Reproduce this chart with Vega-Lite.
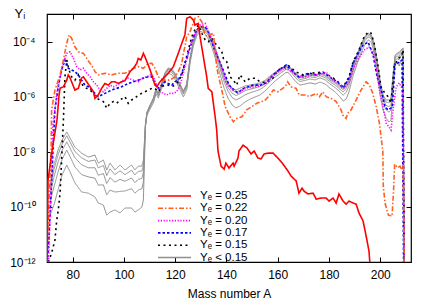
{
"$schema": "https://vega.github.io/schema/vega-lite/v6.json",
"width": 364, "height": 248,
"autosize": {"type": "none"},
"padding": {"left": 47, "top": 14, "right": 21, "bottom": 40},
"background": "white",
"config": {
  "font": "Liberation Sans",
  "view": {"stroke": "#000", "strokeWidth": 1.2},
  "axis": {"grid": false, "domain": false, "tickColor": "#000", "labelColor": "#000", "titleColor": "#000", "labelFontSize": 12, "titleFontSize": 12, "titleFontWeight": "normal", "labelFont": "Liberation Sans", "titleFont": "Liberation Sans", "labelFlush": false, "labelOverlap": false},
  "legend": {"orient": "none", "legendX": 110, "legendY": 176, "symbolType": "stroke", "symbolSize": 1089, "symbolStrokeWidth": 1.6, "clipHeight": 12, "rowPadding": 0.3, "labelFontSize": 11.5, "labelFont": "Liberation Sans", "labelColor": "#000", "labelOffset": 8, "padding": 0, "labelLimit": 300}
},
"datasets": {
"gray": [
{"A":71.2,"g1":6.17e-10,"g2":4.57e-10,"g3":2.88e-10,"g4":1.55e-10,"g5":5.01e-11},
{"A":72.7,"g1":3.31e-9,"g2":2.24e-9,"g3":1.20e-9,"g4":5.25e-10,"g5":1.17e-10},
{"A":74.3,"g1":1.15e-8,"g2":7.76e-9,"g3":4.17e-9,"g4":1.82e-9,"g5":4.07e-10},
{"A":75.9,"g1":2.69e-8,"g2":1.91e-8,"g3":1.12e-8,"g4":5.37e-9,"g5":1.45e-9},
{"A":77.7,"g1":5.25e-8,"g2":3.80e-8,"g3":2.29e-8,"g4":1.15e-8,"g5":3.31e-9},
{"A":79.0,"g1":3.16e-8,"g2":2.24e-8,"g3":1.35e-8,"g4":6.61e-9,"g5":1.86e-9},
{"A":80.9,"g1":1.48e-8,"g2":1.02e-8,"g3":6.03e-9,"g4":2.82e-9,"g5":7.41e-10},
{"A":83.5,"g1":8.91e-9,"g2":6.03e-9,"g3":3.39e-9,"g4":1.48e-9,"g5":3.47e-10},
{"A":86.1,"g1":6.46e-9,"g2":4.47e-9,"g3":2.63e-9,"g4":1.23e-9,"g5":3.16e-10},
{"A":88.7,"g1":7.59e-9,"g2":5.01e-9,"g3":2.63e-9,"g4":1.10e-9,"g5":2.29e-10},
{"A":90.0,"g1":3.89e-9,"g2":2.63e-9,"g3":1.41e-9,"g4":6.17e-10,"g5":1.38e-10},
{"A":92.0,"g1":5.01e-9,"g2":3.16e-9,"g3":1.62e-9,"g4":6.31e-10,"g5":1.17e-10},
{"A":93.3,"g1":2.19e-9,"g2":1.38e-9,"g3":7.08e-10,"g4":2.75e-10,"g5":5.01e-11},
{"A":94.6,"g1":3.89e-9,"g2":2.40e-9,"g3":1.15e-9,"g4":4.07e-10,"g5":6.46e-11},
{"A":96.5,"g1":2.19e-9,"g2":1.48e-9,"g3":7.94e-10,"g4":3.47e-10,"g5":7.76e-11},
{"A":98.5,"g1":3.31e-9,"g2":2.04e-9,"g3":1.0e-9,"g4":3.63e-10,"g5":6.03e-11},
{"A":100.4,"g1":2.19e-9,"g2":1.48e-9,"g3":8.51e-10,"g4":3.80e-10,"g5":9.12e-11},
{"A":103.0,"g1":3.31e-9,"g2":2.14e-9,"g3":1.12e-9,"g4":4.57e-10,"g5":9.12e-11},
{"A":104.3,"g1":2.19e-9,"g2":1.45e-9,"g3":7.59e-10,"g4":3.16e-10,"g5":6.46e-11},
{"A":105.6,"g1":3.02e-9,"g2":1.95e-9,"g3":1.0e-9,"g4":4.07e-10,"g5":7.76e-11},
{"A":107.0,"g1":3.02e-9,"g2":2.0e-9,"g3":1.07e-9,"g4":4.57e-10,"g5":9.77e-11},
{"A":107.6,"g1":5.01e-9,"g2":3.39e-9,"g3":1.82e-9,"g4":7.94e-10,"g5":1.78e-10},
{"A":108.4,"g1":1.0e-7,"g2":9.55e-8,"g3":9.12e-8,"g4":8.71e-8,"g5":7.94e-8},
{"A":109.0,"g1":2.75e-7,"g2":2.69e-7,"g3":2.57e-7,"g4":2.40e-7,"g5":2.14e-7},
{"A":110.2,"g1":5.01e-7,"g2":4.79e-7,"g3":4.47e-7,"g4":4.17e-7,"g5":3.55e-7},
{"A":111.5,"g1":8.91e-7,"g2":8.51e-7,"g3":7.94e-7,"g4":7.08e-7,"g5":5.89e-7},
{"A":112.5,"g1":1.91e-6,"g2":1.82e-6,"g3":1.70e-6,"g4":1.51e-6,"g5":1.26e-6},
{"A":113.4,"g1":1.35e-6,"g2":1.29e-6,"g3":1.20e-6,"g4":1.07e-6,"g5":8.91e-7},
{"A":114.8,"g1":3.16e-6,"g2":3.02e-6,"g3":2.75e-6,"g4":2.51e-6,"g5":2.04e-6},
{"A":116.0,"g1":7.24e-6,"g2":6.92e-6,"g3":6.46e-6,"g4":5.75e-6,"g5":4.79e-6},
{"A":117.3,"g1":1.10e-5,"g2":1.05e-5,"g3":9.77e-6,"g4":8.71e-6,"g5":7.24e-6},
{"A":118.7,"g1":1.0e-5,"g2":9.33e-6,"g3":8.71e-6,"g4":7.59e-6,"g5":6.17e-6},
{"A":119.9,"g1":7.24e-6,"g2":6.76e-6,"g3":6.17e-6,"g4":5.50e-6,"g5":4.37e-6},
{"A":121.9,"g1":2.88e-6,"g2":2.69e-6,"g3":2.45e-6,"g4":2.19e-6,"g5":1.74e-6},
{"A":123.2,"g1":1.62e-6,"g2":1.51e-6,"g3":1.38e-6,"g4":1.23e-6,"g5":9.77e-7},
{"A":124.5,"g1":2.88e-6,"g2":2.69e-6,"g3":2.45e-6,"g4":2.19e-6,"g5":1.74e-6},
{"A":125.8,"g1":2.51e-5,"g2":2.40e-5,"g3":2.24e-5,"g4":2.0e-5,"g5":1.66e-5},
{"A":127.1,"g1":1.05e-4,"g2":1.0e-4,"g3":9.33e-5,"g4":8.32e-5,"g5":6.92e-5},
{"A":128.4,"g1":2.40e-4,"g2":2.29e-4,"g3":2.14e-4,"g4":1.91e-4,"g5":1.58e-4},
{"A":129.7,"g1":3.63e-4,"g2":3.47e-4,"g3":3.24e-4,"g4":2.88e-4,"g5":2.40e-4},
{"A":131.3,"g1":3.39e-4,"g2":3.16e-4,"g3":2.88e-4,"g4":2.57e-4,"g5":2.04e-4},
{"A":132.8,"g1":2.40e-4,"g2":2.24e-4,"g3":2.0e-4,"g4":1.74e-4,"g5":1.35e-4},
{"A":134.4,"g1":1.15e-4,"g2":1.07e-4,"g3":9.33e-5,"g4":7.94e-5,"g5":5.89e-5},
{"A":135.9,"g1":4.90e-5,"g2":4.47e-5,"g3":3.80e-5,"g4":3.09e-5,"g5":2.14e-5},
{"A":137.5,"g1":1.82e-5,"g2":1.62e-5,"g3":1.35e-5,"g4":1.05e-5,"g5":6.61e-6},
{"A":139.1,"g1":6.61e-6,"g2":5.75e-6,"g3":4.68e-6,"g4":3.47e-6,"g5":2.04e-6},
{"A":140.6,"g1":3.16e-6,"g2":2.69e-6,"g3":2.14e-6,"g4":1.58e-6,"g5":8.91e-7},
{"A":142.2,"g1":2.04e-6,"g2":1.74e-6,"g3":1.35e-6,"g4":9.33e-7,"g5":5.01e-7},
{"A":143.7,"g1":1.74e-6,"g2":1.45e-6,"g3":1.10e-6,"g4":7.59e-7,"g5":3.89e-7},
{"A":145.3,"g1":2.04e-6,"g2":1.70e-6,"g3":1.29e-6,"g4":8.91e-7,"g5":4.57e-7},
{"A":147.3,"g1":2.45e-6,"g2":2.09e-6,"g3":1.66e-6,"g4":1.17e-6,"g5":6.46e-7},
{"A":149.2,"g1":2.63e-6,"g2":2.29e-6,"g3":1.86e-6,"g4":1.38e-6,"g5":8.13e-7},
{"A":151.2,"g1":2.88e-6,"g2":2.51e-6,"g3":2.09e-6,"g4":1.58e-6,"g5":9.77e-7},
{"A":153.1,"g1":3.16e-6,"g2":2.82e-6,"g3":2.34e-6,"g4":1.82e-6,"g5":1.15e-6},
{"A":155.1,"g1":3.98e-6,"g2":3.55e-6,"g3":3.02e-6,"g4":2.45e-6,"g5":1.62e-6},
{"A":157.0,"g1":5.62e-6,"g2":5.13e-6,"g3":4.37e-6,"g4":3.55e-6,"g5":2.45e-6},
{"A":159.0,"g1":7.76e-6,"g2":7.08e-6,"g3":6.17e-6,"g4":5.13e-6,"g5":3.72e-6},
{"A":160.9,"g1":1.0e-5,"g2":9.33e-6,"g3":8.13e-6,"g4":6.92e-6,"g5":5.13e-6},
{"A":162.9,"g1":1.29e-5,"g2":1.20e-5,"g3":1.07e-5,"g4":9.33e-6,"g5":7.24e-6},
{"A":164.0,"g1":1.41e-5,"g2":1.32e-5,"g3":1.17e-5,"g4":1.02e-5,"g5":7.76e-6},
{"A":165.6,"g1":1.0e-5,"g2":9.33e-6,"g3":8.13e-6,"g4":6.92e-6,"g5":5.13e-6},
{"A":167.2,"g1":6.61e-6,"g2":6.17e-6,"g3":5.37e-6,"g4":4.57e-6,"g5":3.39e-6},
{"A":168.7,"g1":5.13e-6,"g2":4.79e-6,"g3":4.17e-6,"g4":3.55e-6,"g5":2.63e-6},
{"A":170.7,"g1":5.62e-6,"g2":5.25e-6,"g3":4.57e-6,"g4":3.89e-6,"g5":2.88e-6},
{"A":172.6,"g1":6.61e-6,"g2":6.03e-6,"g3":5.25e-6,"g4":4.37e-6,"g5":3.16e-6},
{"A":174.6,"g1":6.17e-6,"g2":5.62e-6,"g3":4.90e-6,"g4":4.07e-6,"g5":2.88e-6},
{"A":176.5,"g1":7.24e-6,"g2":6.61e-6,"g3":5.75e-6,"g4":4.79e-6,"g5":3.39e-6},
{"A":178.5,"g1":6.17e-6,"g2":5.62e-6,"g3":4.90e-6,"g4":4.07e-6,"g5":2.88e-6},
{"A":180.4,"g1":4.37e-6,"g2":3.98e-6,"g3":3.47e-6,"g4":2.88e-6,"g5":2.04e-6},
{"A":182.4,"g1":3.39e-6,"g2":3.09e-6,"g3":2.63e-6,"g4":2.14e-6,"g5":1.48e-6},
{"A":184.3,"g1":2.45e-6,"g2":2.19e-6,"g3":1.86e-6,"g4":1.48e-6,"g5":9.77e-7},
{"A":185.5,"g1":2.04e-6,"g2":1.78e-6,"g3":1.48e-6,"g4":1.12e-6,"g5":6.92e-7},
{"A":186.7,"g1":2.88e-6,"g2":2.45e-6,"g3":1.95e-6,"g4":1.45e-6,"g5":8.13e-7},
{"A":187.8,"g1":4.37e-6,"g2":3.80e-6,"g3":3.16e-6,"g4":2.40e-6,"g5":1.48e-6},
{"A":189.4,"g1":1.41e-5,"g2":1.26e-5,"g3":1.07e-5,"g4":8.51e-6,"g5":5.62e-6},
{"A":191.0,"g1":3.55e-5,"g2":3.24e-5,"g3":2.75e-5,"g4":2.24e-5,"g5":1.55e-5},
{"A":192.5,"g1":8.13e-5,"g2":7.41e-5,"g3":6.46e-5,"g4":5.37e-5,"g5":3.80e-5},
{"A":194.1,"g1":1.58e-4,"g2":1.48e-4,"g3":1.29e-4,"g4":1.10e-4,"g5":8.13e-5},
{"A":195.3,"g1":2.04e-4,"g2":1.91e-4,"g3":1.70e-4,"g4":1.48e-4,"g5":1.15e-4},
{"A":196.5,"g1":1.74e-4,"g2":1.62e-4,"g3":1.45e-4,"g4":1.26e-4,"g5":9.55e-5},
{"A":197.6,"g1":8.91e-5,"g2":8.13e-5,"g3":7.08e-5,"g4":5.89e-5,"g5":4.17e-5},
{"A":198.8,"g1":2.14e-5,"g2":1.91e-5,"g3":1.58e-5,"g4":1.23e-5,"g5":7.76e-6},
{"A":199.9,"g1":3.98e-6,"g2":3.47e-6,"g3":2.75e-6,"g4":2.0e-6,"g5":1.15e-6},
{"A":201.1,"g1":1.15e-6,"g2":1.0e-6,"g3":7.94e-7,"g4":5.75e-7,"g5":3.31e-7},
{"A":202.3,"g1":7.59e-7,"g2":6.31e-7,"g3":4.79e-7,"g4":3.31e-7,"g5":1.66e-7},
{"A":203.4,"g1":7.59e-7,"g2":6.03e-7,"g3":4.37e-7,"g4":2.75e-7,"g5":1.20e-7},
{"A":204.2,"g1":8.91e-7,"g2":7.08e-7,"g3":5.13e-7,"g4":3.24e-7,"g5":1.41e-7},
{"A":205.0,"g1":6.17e-6,"g2":5.25e-6,"g3":4.17e-6,"g4":3.09e-6,"g5":1.74e-6},
{"A":205.8,"g1":3.24e-5,"g2":2.95e-5,"g3":2.51e-5,"g4":2.04e-5,"g5":1.41e-5},
{"A":206.6,"g1":3.80e-5,"g2":3.47e-5,"g3":2.95e-5,"g4":2.40e-5,"g5":1.66e-5},
{"A":207.4,"g1":4.17e-5,"g2":3.63e-5,"g3":2.95e-5,"g4":2.19e-5,"g5":1.29e-5},
{"A":208.1,"g1":4.90e-5,"g2":4.47e-5,"g3":3.80e-5,"g4":3.09e-5,"g5":2.14e-5},
{"A":208.9,"g1":5.89e-5,"g2":5.13e-5,"g3":4.17e-5,"g4":3.09e-5,"g5":1.82e-5},
{"A":209.3,"g1":1e-12,"g2":1e-12,"g3":1e-12,"g4":1e-12,"g5":1e-12}
],
"main": [
{"s":"0.15","A":70.5,"Y":1e-12},{"s":"0.15","A":71.8,"Y":2.09e-12},{"s":"0.15","A":73.1,"Y":6.31e-12},{"s":"0.15","A":73.8,"Y":3.31e-11},{"s":"0.15","A":74.4,"Y":7.76e-11},{"s":"0.15","A":75.1,"Y":3.16e-10},{"s":"0.15","A":75.7,"Y":5.01e-9},{"s":"0.15","A":76.4,"Y":1.41e-7},{"s":"0.15","A":77.0,"Y":5.25e-6},{"s":"0.15","A":77.7,"Y":2.14e-5},{"s":"0.15","A":78.3,"Y":1.23e-5},{"s":"0.15","A":79.0,"Y":7.08e-6},{"s":"0.15","A":79.6,"Y":5.25e-6},{"s":"0.15","A":80.9,"Y":3.98e-6},{"s":"0.15","A":82.2,"Y":6.17e-6},{"s":"0.15","A":82.9,"Y":3.98e-6},{"s":"0.15","A":84.2,"Y":2.29e-6},{"s":"0.15","A":85.5,"Y":2.0e-6},{"s":"0.15","A":86.8,"Y":1.74e-6},{"s":"0.15","A":88.1,"Y":1.32e-6},{"s":"0.15","A":89.4,"Y":8.71e-7},{"s":"0.15","A":90.7,"Y":7.59e-7},{"s":"0.15","A":92.0,"Y":6.61e-7},{"s":"0.15","A":93.3,"Y":3.80e-7},{"s":"0.15","A":94.6,"Y":5.75e-7},{"s":"0.15","A":95.9,"Y":6.61e-7},{"s":"0.15","A":97.2,"Y":5.75e-7},{"s":"0.15","A":98.5,"Y":7.59e-7},{"s":"0.15","A":100.4,"Y":1.0e-6},{"s":"0.15","A":101.7,"Y":5.75e-7},{"s":"0.15","A":103.0,"Y":7.59e-7},{"s":"0.15","A":104.3,"Y":8.71e-7},{"s":"0.15","A":105.6,"Y":1.15e-6},{"s":"0.15","A":107.0,"Y":1.32e-6},{"s":"0.15","A":108.2,"Y":1.51e-6},{"s":"0.15","A":109.5,"Y":1.74e-6},{"s":"0.15","A":110.9,"Y":2.0e-6},{"s":"0.15","A":112.1,"Y":2.0e-6},{"s":"0.15","A":113.4,"Y":1.51e-6},{"s":"0.15","A":114.8,"Y":2.29e-6},{"s":"0.15","A":116.0,"Y":2.63e-6},{"s":"0.15","A":117.3,"Y":2.63e-6},{"s":"0.15","A":118.7,"Y":2.29e-6},{"s":"0.15","A":119.9,"Y":2.63e-6},{"s":"0.15","A":121.2,"Y":3.47e-6},{"s":"0.15","A":122.6,"Y":6.17e-6},{"s":"0.15","A":123.8,"Y":1.62e-5},{"s":"0.15","A":125.1,"Y":4.9e-5},{"s":"0.15","A":126.5,"Y":1.51e-4},{"s":"0.15","A":127.7,"Y":2.63e-4},{"s":"0.15","A":129.0,"Y":3.98e-4},{"s":"0.15","A":130.4,"Y":2.0e-4},{"s":"0.15","A":131.7,"Y":1.15e-4},{"s":"0.15","A":132.9,"Y":9.77e-5},{"s":"0.15","A":134.3,"Y":1.32e-4},{"s":"0.15","A":135.6,"Y":8.71e-5},{"s":"0.15","A":136.8,"Y":6.46e-5},{"s":"0.15","A":138.2,"Y":4.27e-5},{"s":"0.15","A":138.8,"Y":2.45e-5},{"s":"0.15","A":140.1,"Y":1.86e-5},{"s":"0.15","A":141.4,"Y":5.25e-6},{"s":"0.15","A":142.7,"Y":3.98e-6},{"s":"0.15","A":144.0,"Y":2.63e-6},{"s":"0.15","A":145.3,"Y":6.17e-6},{"s":"0.15","A":147.3,"Y":3.47e-6},{"s":"0.15","A":149.2,"Y":4.68e-6},{"s":"0.15","A":151.2,"Y":4.68e-6},{"s":"0.15","A":153.1,"Y":3.47e-6},{"s":"0.15","A":155.5,"Y":3.16e-6},{"s":"0.15","A":158.2,"Y":4.79e-6},{"s":"0.15","A":160.1,"Y":9.33e-6},{"s":"0.15","A":162.1,"Y":1.10e-5},{"s":"0.15","A":164.0,"Y":1.41e-5},{"s":"0.15","A":167.2,"Y":7.76e-6},{"s":"0.15","A":169.9,"Y":6.17e-6},{"s":"0.15","A":173.8,"Y":7.24e-6},{"s":"0.15","A":177.7,"Y":7.76e-6},{"s":"0.15","A":181.6,"Y":4.79e-6},{"s":"0.15","A":183.9,"Y":3.16e-6},{"s":"0.15","A":185.5,"Y":2.24e-6},{"s":"0.15","A":187.8,"Y":5.13e-6},{"s":"0.15","A":189.4,"Y":1.82e-5},{"s":"0.15","A":191.7,"Y":4.9e-5},{"s":"0.15","A":193.7,"Y":1.48e-4},{"s":"0.15","A":195.3,"Y":2.24e-4},{"s":"0.15","A":196.4,"Y":2.04e-4},{"s":"0.15","A":197.6,"Y":8.91e-5},{"s":"0.15","A":199.2,"Y":1.20e-5},{"s":"0.15","A":200.3,"Y":2.24e-6},{"s":"0.15","A":201.5,"Y":1.48e-6},{"s":"0.15","A":203.1,"Y":9.77e-7},{"s":"0.15","A":204.2,"Y":5.89e-7},{"s":"0.15","A":205.4,"Y":1.20e-5},{"s":"0.15","A":207.0,"Y":2.51e-5},{"s":"0.15","A":208.2,"Y":2.75e-5},{"s":"0.15","A":208.9,"Y":4.9e-5},{"s":"0.15","A":209.3,"Y":1e-12},
{"s":"0.17","A":70.2,"Y":1e-12},{"s":"0.17","A":70.8,"Y":9.55e-12},{"s":"0.17","A":71.4,"Y":1.17e-10},{"s":"0.17","A":72.0,"Y":2.19e-9},{"s":"0.17","A":72.5,"Y":2.69e-8},{"s":"0.17","A":73.1,"Y":3.31e-7},{"s":"0.17","A":74.4,"Y":2.29e-6},{"s":"0.17","A":75.7,"Y":9.33e-6},{"s":"0.17","A":77.0,"Y":2.14e-5},{"s":"0.17","A":77.7,"Y":1.62e-5},{"s":"0.17","A":78.3,"Y":1.07e-5},{"s":"0.17","A":79.6,"Y":9.33e-6},{"s":"0.17","A":80.9,"Y":8.13e-6},{"s":"0.17","A":82.2,"Y":6.17e-6},{"s":"0.17","A":83.5,"Y":3.98e-6},{"s":"0.17","A":84.8,"Y":2.63e-6},{"s":"0.17","A":86.1,"Y":2.29e-6},{"s":"0.17","A":87.4,"Y":1.74e-6},{"s":"0.17","A":88.7,"Y":1.32e-6},{"s":"0.17","A":90.0,"Y":1.0e-6},{"s":"0.17","A":91.3,"Y":1.15e-6},{"s":"0.17","A":92.6,"Y":1.32e-6},{"s":"0.17","A":93.9,"Y":1.51e-6},{"s":"0.17","A":95.2,"Y":1.74e-6},{"s":"0.17","A":97.2,"Y":2.0e-6},{"s":"0.17","A":99.1,"Y":2.29e-6},{"s":"0.17","A":101.7,"Y":3.02e-6},{"s":"0.17","A":103.7,"Y":3.47e-6},{"s":"0.17","A":105.6,"Y":3.98e-6},{"s":"0.17","A":107.6,"Y":4.68e-6},{"s":"0.17","A":109.5,"Y":5.25e-6},{"s":"0.17","A":110.9,"Y":5.25e-6},{"s":"0.17","A":112.1,"Y":3.02e-6},{"s":"0.17","A":113.4,"Y":2.0e-6},{"s":"0.17","A":114.8,"Y":2.63e-6},{"s":"0.17","A":116.0,"Y":3.47e-6},{"s":"0.17","A":117.3,"Y":3.02e-6},{"s":"0.17","A":118.7,"Y":2.63e-6},{"s":"0.17","A":119.9,"Y":3.47e-6},{"s":"0.17","A":121.2,"Y":3.98e-6},{"s":"0.17","A":122.6,"Y":7.08e-6},{"s":"0.17","A":123.8,"Y":1.62e-5},{"s":"0.17","A":125.1,"Y":3.72e-5},{"s":"0.17","A":126.5,"Y":9.77e-5},{"s":"0.17","A":127.7,"Y":2.0e-4},{"s":"0.17","A":129.0,"Y":3.02e-4},{"s":"0.17","A":130.4,"Y":3.47e-4},{"s":"0.17","A":131.7,"Y":3.47e-4},{"s":"0.17","A":132.9,"Y":2.29e-4},{"s":"0.17","A":134.3,"Y":9.77e-5},{"s":"0.17","A":135.6,"Y":4.27e-5},{"s":"0.17","A":137.1,"Y":2.14e-5},{"s":"0.17","A":139.1,"Y":7.76e-6},{"s":"0.17","A":141.0,"Y":2.63e-6},{"s":"0.17","A":143.0,"Y":1.74e-6},{"s":"0.17","A":144.5,"Y":1.35e-6},{"s":"0.17","A":146.9,"Y":2.04e-6},{"s":"0.17","A":150.4,"Y":2.63e-6},{"s":"0.17","A":153.5,"Y":2.63e-6},{"s":"0.17","A":155.5,"Y":3.16e-6},{"s":"0.17","A":158.2,"Y":6.17e-6},{"s":"0.17","A":160.5,"Y":9.33e-6},{"s":"0.17","A":163.3,"Y":1.41e-5},{"s":"0.17","A":165.2,"Y":9.33e-6},{"s":"0.17","A":168.3,"Y":5.13e-6},{"s":"0.17","A":172.2,"Y":7.24e-6},{"s":"0.17","A":175.0,"Y":6.17e-6},{"s":"0.17","A":177.7,"Y":7.76e-6},{"s":"0.17","A":180.8,"Y":4.79e-6},{"s":"0.17","A":183.5,"Y":3.39e-6},{"s":"0.17","A":185.5,"Y":2.04e-6},{"s":"0.17","A":187.8,"Y":4.79e-6},{"s":"0.17","A":189.4,"Y":1.66e-5},{"s":"0.17","A":191.4,"Y":3.80e-5},{"s":"0.17","A":193.3,"Y":7.41e-5},{"s":"0.17","A":195.3,"Y":9.55e-5},{"s":"0.17","A":197.2,"Y":3.24e-5},{"s":"0.17","A":198.8,"Y":5.13e-6},{"s":"0.17","A":200.7,"Y":1.35e-6},{"s":"0.17","A":201.9,"Y":4.17e-7},{"s":"0.17","A":203.1,"Y":3.31e-7},{"s":"0.17","A":204.7,"Y":4.17e-7},{"s":"0.17","A":205.8,"Y":1.66e-5},{"s":"0.17","A":207.0,"Y":1.66e-5},{"s":"0.17","A":208.5,"Y":2.14e-5},{"s":"0.17","A":209.1,"Y":1e-12},
{"s":"0.20","A":70.6,"Y":1e-12},{"s":"0.20","A":71.2,"Y":5.01e-11},{"s":"0.20","A":71.8,"Y":2.19e-9},{"s":"0.20","A":72.3,"Y":9.33e-8},{"s":"0.20","A":73.8,"Y":1.32e-6},{"s":"0.20","A":75.1,"Y":5.25e-6},{"s":"0.20","A":76.4,"Y":1.62e-5},{"s":"0.20","A":77.7,"Y":3.72e-5},{"s":"0.20","A":79.0,"Y":4.27e-5},{"s":"0.20","A":80.3,"Y":2.45e-5},{"s":"0.20","A":81.6,"Y":1.23e-5},{"s":"0.20","A":82.9,"Y":9.33e-6},{"s":"0.20","A":84.2,"Y":1.07e-5},{"s":"0.20","A":85.5,"Y":7.08e-6},{"s":"0.20","A":86.8,"Y":5.25e-6},{"s":"0.20","A":88.1,"Y":3.47e-6},{"s":"0.20","A":89.4,"Y":2.63e-6},{"s":"0.20","A":90.7,"Y":1.74e-6},{"s":"0.20","A":92.0,"Y":1.51e-6},{"s":"0.20","A":93.3,"Y":2.0e-6},{"s":"0.20","A":94.6,"Y":2.63e-6},{"s":"0.20","A":95.9,"Y":2.29e-6},{"s":"0.20","A":97.2,"Y":2.63e-6},{"s":"0.20","A":98.5,"Y":3.02e-6},{"s":"0.20","A":99.8,"Y":3.98e-6},{"s":"0.20","A":101.7,"Y":4.68e-6},{"s":"0.20","A":103.7,"Y":3.98e-6},{"s":"0.20","A":105.6,"Y":3.47e-6},{"s":"0.20","A":107.0,"Y":4.68e-6},{"s":"0.20","A":108.9,"Y":5.25e-6},{"s":"0.20","A":110.2,"Y":6.17e-6},{"s":"0.20","A":111.5,"Y":5.25e-6},{"s":"0.20","A":112.8,"Y":2.63e-6},{"s":"0.20","A":114.1,"Y":1.51e-6},{"s":"0.20","A":115.4,"Y":1.32e-6},{"s":"0.20","A":116.7,"Y":1.15e-6},{"s":"0.20","A":118.0,"Y":1.32e-6},{"s":"0.20","A":119.3,"Y":1.32e-6},{"s":"0.20","A":120.6,"Y":1.51e-6},{"s":"0.20","A":121.9,"Y":2.63e-6},{"s":"0.20","A":123.2,"Y":7.08e-6},{"s":"0.20","A":124.5,"Y":2.14e-5},{"s":"0.20","A":125.8,"Y":6.46e-5},{"s":"0.20","A":127.1,"Y":1.51e-4},{"s":"0.20","A":128.4,"Y":2.63e-4},{"s":"0.20","A":129.7,"Y":3.98e-4},{"s":"0.20","A":131.7,"Y":4.57e-4},{"s":"0.20","A":133.6,"Y":1.74e-4},{"s":"0.20","A":134.9,"Y":8.71e-5},{"s":"0.20","A":136.2,"Y":3.72e-5},{"s":"0.20","A":137.5,"Y":1.62e-5},{"s":"0.20","A":138.8,"Y":8.13e-6},{"s":"0.20","A":139.8,"Y":3.16e-6},{"s":"0.20","A":142.6,"Y":1.74e-6},{"s":"0.20","A":144.5,"Y":1.35e-6},{"s":"0.20","A":147.6,"Y":2.04e-6},{"s":"0.20","A":150.4,"Y":2.24e-6},{"s":"0.20","A":154.3,"Y":2.63e-6},{"s":"0.20","A":156.6,"Y":3.98e-6},{"s":"0.20","A":159.3,"Y":7.24e-6},{"s":"0.20","A":162.1,"Y":1.10e-5},{"s":"0.20","A":164.4,"Y":9.33e-6},{"s":"0.20","A":167.2,"Y":6.17e-6},{"s":"0.20","A":169.9,"Y":5.13e-6},{"s":"0.20","A":173.8,"Y":6.17e-6},{"s":"0.20","A":176.1,"Y":6.17e-6},{"s":"0.20","A":178.9,"Y":7.76e-6},{"s":"0.20","A":181.6,"Y":3.98e-6},{"s":"0.20","A":184.7,"Y":2.63e-6},{"s":"0.20","A":185.9,"Y":2.04e-6},{"s":"0.20","A":187.8,"Y":3.16e-6},{"s":"0.20","A":189.8,"Y":1.20e-5},{"s":"0.20","A":191.7,"Y":2.51e-5},{"s":"0.20","A":193.7,"Y":4.9e-5},{"s":"0.20","A":195.6,"Y":6.31e-5},{"s":"0.20","A":197.2,"Y":4.17e-5},{"s":"0.20","A":198.4,"Y":1.20e-5},{"s":"0.20","A":199.5,"Y":2.24e-6},{"s":"0.20","A":201.1,"Y":4.17e-7},{"s":"0.20","A":202.3,"Y":1.10e-7},{"s":"0.20","A":204.2,"Y":6.17e-8},{"s":"0.20","A":205.0,"Y":3.31e-7},{"s":"0.20","A":206.2,"Y":2.24e-6},{"s":"0.20","A":207.4,"Y":3.16e-6},{"s":"0.20","A":208.9,"Y":1.74e-6},{"s":"0.20","A":209.3,"Y":1e-12},
{"s":"0.22","A":70.0,"Y":1e-12},{"s":"0.22","A":70.2,"Y":6.31e-12},{"s":"0.22","A":70.8,"Y":1.78e-10},{"s":"0.22","A":71.6,"Y":1.15e-8},{"s":"0.22","A":71.8,"Y":3.31e-7},{"s":"0.22","A":73.1,"Y":1.74e-6},{"s":"0.22","A":75.1,"Y":6.17e-6},{"s":"0.22","A":76.4,"Y":2.14e-5},{"s":"0.22","A":77.7,"Y":8.71e-5},{"s":"0.22","A":78.6,"Y":1.74e-4},{"s":"0.22","A":79.6,"Y":1.32e-4},{"s":"0.22","A":80.9,"Y":6.46e-5},{"s":"0.22","A":82.2,"Y":4.27e-5},{"s":"0.22","A":84.2,"Y":3.72e-5},{"s":"0.22","A":85.5,"Y":2.45e-5},{"s":"0.22","A":86.8,"Y":1.62e-5},{"s":"0.22","A":88.1,"Y":1.07e-5},{"s":"0.22","A":88.7,"Y":8.13e-6},{"s":"0.22","A":90.0,"Y":6.17e-6},{"s":"0.22","A":92.6,"Y":7.08e-6},{"s":"0.22","A":95.2,"Y":6.17e-6},{"s":"0.22","A":97.8,"Y":7.08e-6},{"s":"0.22","A":100.4,"Y":7.08e-6},{"s":"0.22","A":101.7,"Y":8.13e-6},{"s":"0.22","A":103.7,"Y":1.07e-5},{"s":"0.22","A":105.6,"Y":1.23e-5},{"s":"0.22","A":107.6,"Y":1.07e-5},{"s":"0.22","A":109.5,"Y":1.62e-5},{"s":"0.22","A":110.9,"Y":1.62e-5},{"s":"0.22","A":112.1,"Y":1.07e-5},{"s":"0.22","A":113.4,"Y":5.25e-6},{"s":"0.22","A":115.4,"Y":3.98e-6},{"s":"0.22","A":118.0,"Y":3.98e-6},{"s":"0.22","A":119.9,"Y":5.25e-6},{"s":"0.22","A":121.2,"Y":8.13e-6},{"s":"0.22","A":122.6,"Y":1.62e-5},{"s":"0.22","A":123.2,"Y":3.72e-5},{"s":"0.22","A":123.8,"Y":6.46e-5},{"s":"0.22","A":124.5,"Y":1.51e-4},{"s":"0.22","A":125.8,"Y":2.29e-4},{"s":"0.22","A":126.5,"Y":3.47e-4},{"s":"0.22","A":127.1,"Y":4.57e-4},{"s":"0.22","A":127.7,"Y":6.92e-4},{"s":"0.22","A":129.0,"Y":7.94e-4},{"s":"0.22","A":130.4,"Y":5.25e-4},{"s":"0.22","A":131.0,"Y":2.63e-4},{"s":"0.22","A":132.3,"Y":1.51e-4},{"s":"0.22","A":133.6,"Y":1.74e-4},{"s":"0.22","A":134.9,"Y":2.0e-4},{"s":"0.22","A":135.6,"Y":4.9e-5},{"s":"0.22","A":136.2,"Y":1.23e-5},{"s":"0.22","A":136.8,"Y":6.17e-6},{"s":"0.22","A":138.2,"Y":1.74e-6},{"s":"0.22","A":139.5,"Y":4.37e-7},{"s":"0.22","A":140.1,"Y":3.31e-7},{"s":"0.22","A":141.4,"Y":1.86e-7},{"s":"0.22","A":142.7,"Y":1.23e-7},{"s":"0.22","A":144.0,"Y":1.62e-7},{"s":"0.22","A":146.0,"Y":1.86e-7},{"s":"0.22","A":147.9,"Y":3.31e-7},{"s":"0.22","A":149.9,"Y":4.37e-7},{"s":"0.22","A":151.8,"Y":5.75e-7},{"s":"0.22","A":153.8,"Y":6.61e-7},{"s":"0.22","A":155.1,"Y":7.59e-7},{"s":"0.22","A":156.4,"Y":1.0e-6},{"s":"0.22","A":158.3,"Y":1.74e-6},{"s":"0.22","A":160.0,"Y":1.51e-6},{"s":"0.22","A":162.0,"Y":2.0e-6},{"s":"0.22","A":163.3,"Y":2.63e-6},{"s":"0.22","A":163.9,"Y":3.47e-6},{"s":"0.22","A":165.2,"Y":2.29e-6},{"s":"0.22","A":167.2,"Y":2.0e-6},{"s":"0.22","A":168.4,"Y":1.15e-6},{"s":"0.22","A":171.1,"Y":1.15e-6},{"s":"0.22","A":172.3,"Y":1.0e-6},{"s":"0.22","A":175.0,"Y":1.32e-6},{"s":"0.22","A":176.3,"Y":1.0e-6},{"s":"0.22","A":177.6,"Y":1.51e-6},{"s":"0.22","A":178.9,"Y":1.0e-6},{"s":"0.22","A":180.8,"Y":8.71e-7},{"s":"0.22","A":182.8,"Y":6.61e-7},{"s":"0.22","A":184.7,"Y":3.31e-7},{"s":"0.22","A":185.4,"Y":2.14e-7},{"s":"0.22","A":186.7,"Y":1.62e-7},{"s":"0.22","A":187.3,"Y":2.51e-7},{"s":"0.22","A":188.6,"Y":3.31e-7},{"s":"0.22","A":190.6,"Y":7.59e-7},{"s":"0.22","A":192.5,"Y":1.74e-6},{"s":"0.22","A":194.5,"Y":3.47e-6},{"s":"0.22","A":195.8,"Y":2.63e-6},{"s":"0.22","A":197.1,"Y":1.32e-6},{"s":"0.22","A":198.4,"Y":4.37e-7},{"s":"0.22","A":199.7,"Y":1.07e-7},{"s":"0.22","A":200.3,"Y":3.55e-8},{"s":"0.22","A":201.0,"Y":1.07e-8},{"s":"0.22","A":201.2,"Y":5.37e-10},{"s":"0.22","A":201.9,"Y":1.35e-10},{"s":"0.22","A":202.6,"Y":7.76e-11},{"s":"0.22","A":203.2,"Y":5.01e-11},{"s":"0.22","A":204.6,"Y":4.68e-11},{"s":"0.22","A":205.2,"Y":4.07e-10},{"s":"0.22","A":205.6,"Y":3.55e-9},{"s":"0.22","A":206.8,"Y":2.63e-9},{"s":"0.22","A":207.7,"Y":3.02e-9},{"s":"0.22","A":208.5,"Y":2.19e-9},{"s":"0.22","A":208.9,"Y":3.31e-9},{"s":"0.22","A":209.3,"Y":1e-12},
{"s":"0.25","A":70.0,"Y":1e-12},{"s":"0.25","A":70.2,"Y":1.45e-11},{"s":"0.25","A":70.4,"Y":9.3e-10},{"s":"0.25","A":72.0,"Y":1.15e-8},{"s":"0.25","A":73.9,"Y":1.41e-7},{"s":"0.25","A":74.7,"Y":1.15e-6},{"s":"0.25","A":75.1,"Y":2.04e-6},{"s":"0.25","A":76.4,"Y":2.29e-6},{"s":"0.25","A":77.7,"Y":3.98e-6},{"s":"0.25","A":78.3,"Y":6.17e-6},{"s":"0.25","A":79.0,"Y":4.79e-6},{"s":"0.25","A":79.6,"Y":3.47e-6},{"s":"0.25","A":80.9,"Y":1.74e-6},{"s":"0.25","A":82.2,"Y":2.0e-6},{"s":"0.25","A":83.5,"Y":4.79e-6},{"s":"0.25","A":84.2,"Y":5.25e-6},{"s":"0.25","A":85.5,"Y":3.47e-6},{"s":"0.25","A":86.8,"Y":2.29e-6},{"s":"0.25","A":88.1,"Y":1.51e-6},{"s":"0.25","A":88.7,"Y":8.71e-7},{"s":"0.25","A":90.0,"Y":1.15e-6},{"s":"0.25","A":91.3,"Y":2.0e-6},{"s":"0.25","A":92.6,"Y":3.02e-6},{"s":"0.25","A":93.9,"Y":2.63e-6},{"s":"0.25","A":95.2,"Y":3.47e-6},{"s":"0.25","A":96.5,"Y":3.47e-6},{"s":"0.25","A":97.8,"Y":3.02e-6},{"s":"0.25","A":99.1,"Y":3.47e-6},{"s":"0.25","A":100.4,"Y":3.80e-6},{"s":"0.25","A":102.4,"Y":8.13e-6},{"s":"0.25","A":103.7,"Y":1.07e-5},{"s":"0.25","A":105.0,"Y":1.62e-5},{"s":"0.25","A":105.6,"Y":2.45e-5},{"s":"0.25","A":106.6,"Y":2.14e-5},{"s":"0.25","A":107.6,"Y":3.72e-5},{"s":"0.25","A":108.2,"Y":2.82e-5},{"s":"0.25","A":109.5,"Y":1.41e-5},{"s":"0.25","A":110.9,"Y":6.17e-6},{"s":"0.25","A":112.1,"Y":2.63e-6},{"s":"0.25","A":112.8,"Y":2.29e-6},{"s":"0.25","A":114.1,"Y":3.47e-6},{"s":"0.25","A":115.4,"Y":4.68e-6},{"s":"0.25","A":117.3,"Y":7.08e-6},{"s":"0.25","A":119.3,"Y":1.23e-5},{"s":"0.25","A":121.2,"Y":3.72e-5},{"s":"0.25","A":122.6,"Y":8.71e-5},{"s":"0.25","A":123.8,"Y":1.74e-4},{"s":"0.25","A":124.5,"Y":6.92e-4},{"s":"0.25","A":125.8,"Y":7.94e-4},{"s":"0.25","A":127.1,"Y":6.03e-4},{"s":"0.25","A":127.7,"Y":3.98e-4},{"s":"0.25","A":129.0,"Y":4.57e-4},{"s":"0.25","A":129.7,"Y":1.51e-4},{"s":"0.25","A":131.0,"Y":2.82e-5},{"s":"0.25","A":132.3,"Y":5.25e-6},{"s":"0.25","A":132.9,"Y":2.0e-6},{"s":"0.25","A":134.3,"Y":1.51e-6},{"s":"0.25","A":134.9,"Y":5.75e-7},{"s":"0.25","A":135.6,"Y":1.86e-7},{"s":"0.25","A":136.2,"Y":6.17e-8},{"s":"0.25","A":136.7,"Y":1.07e-8},{"s":"0.25","A":137.9,"Y":3.02e-9},{"s":"0.25","A":139.1,"Y":2.34e-9},{"s":"0.25","A":139.8,"Y":3.89e-9},{"s":"0.25","A":141.0,"Y":2.57e-9},{"s":"0.25","A":142.6,"Y":3.89e-9},{"s":"0.25","A":143.0,"Y":3.02e-9},{"s":"0.25","A":144.5,"Y":5.89e-9},{"s":"0.25","A":144.9,"Y":1.07e-8},{"s":"0.25","A":146.5,"Y":1.74e-8},{"s":"0.25","A":148.0,"Y":1.38e-8},{"s":"0.25","A":149.6,"Y":8.32e-9},{"s":"0.25","A":150.8,"Y":1.07e-8},{"s":"0.25","A":152.3,"Y":5.89e-9},{"s":"0.25","A":153.5,"Y":5.50e-9},{"s":"0.25","A":154.7,"Y":8.32e-9},{"s":"0.25","A":156.2,"Y":8.91e-9},{"s":"0.25","A":158.2,"Y":8.91e-9},{"s":"0.25","A":160.1,"Y":5.89e-9},{"s":"0.25","A":162.1,"Y":3.55e-9},{"s":"0.25","A":164.0,"Y":2.0e-9},{"s":"0.25","A":165.2,"Y":1.32e-9},{"s":"0.25","A":167.2,"Y":8.71e-10},{"s":"0.25","A":168.3,"Y":3.16e-10},{"s":"0.25","A":169.5,"Y":4.79e-10},{"s":"0.25","A":170.3,"Y":3.72e-10},{"s":"0.25","A":171.8,"Y":2.95e-10},{"s":"0.25","A":173.8,"Y":3.16e-10},{"s":"0.25","A":175.0,"Y":1.91e-10},{"s":"0.25","A":176.9,"Y":2.09e-10},{"s":"0.25","A":178.9,"Y":2.09e-10},{"s":"0.25","A":180.0,"Y":1.62e-10},{"s":"0.25","A":181.6,"Y":2.09e-10},{"s":"0.25","A":182.8,"Y":1.38e-10},{"s":"0.25","A":183.9,"Y":2.95e-10},{"s":"0.25","A":185.5,"Y":1.62e-10},{"s":"0.25","A":186.7,"Y":1.26e-10},{"s":"0.25","A":187.8,"Y":1.62e-10},{"s":"0.25","A":189.4,"Y":1.38e-10},{"s":"0.25","A":190.6,"Y":1.26e-10},{"s":"0.25","A":191.7,"Y":6.03e-11},{"s":"0.25","A":193.3,"Y":3.09e-11},{"s":"0.25","A":194.5,"Y":8.71e-12},{"s":"0.25","A":195.6,"Y":2.51e-12},{"s":"0.25","A":196.0,"Y":8.3e-13}
]
},
"resolve": {"axis": {"x": "independent", "y": "independent"}},
"layer": [
{"data": {"name": "gray"}, "mark": {"type": "line", "strokeWidth": 1.0, "clip": true},
 "encoding": {
  "x": {"field": "A", "type": "quantitative", "scale": {"domain": [70, 212], "nice": false, "zero": false},
        "axis": {"orient": "bottom", "values": [80,100,120,140,160,180,200], "format": "d", "tickSize": -5, "labelPadding": 12, "title": "Mass number A", "titleY": 35.5, "titleBaseline": "alphabetic"}},
  "y": {"field": "g1", "type": "quantitative", "scale": {"type": "log", "domain": [1e-12, 1e-3], "nice": false},
        "axis": {"orient": "left", "values": [1e-12,1e-10,1e-8,1e-6,1e-4], "tickSize": -5, "labelPadding": 17,
                 "labelExpr": "datum.value < 1e-11 ? '10⁻¹²' : datum.value < 1e-9 ? '10⁻¹⁰' : datum.value < 1e-7 ? '10⁻⁸' : datum.value < 1e-5 ? '10⁻⁶' : '10⁻⁴'",
                 "title": "Yᵢ", "titleAngle": 0, "titleX": -33, "titleY": 3, "titleAlign": "left", "titleBaseline": "alphabetic", "titleFontSize": 13}},
  "color": {"datum": "< 0.15", "type": "nominal", "scale": {"domain": ["0.25","0.22","0.20","0.17","0.15","< 0.15"], "range": ["#ff0000","#ff6020","#ff00ff","#0000ff","#000000","#8f8f8f"]}, "legend": {"title": null, "labelExpr": "datum.label == '< 0.15' ? 'Yₑ < 0.15' : 'Yₑ = ' + datum.label"}},
  "strokeDash": {"datum": "< 0.15", "type": "nominal", "scale": {"domain": ["0.25","0.22","0.20","0.17","0.15","< 0.15"], "range": [[1,0],[5,2,1.5,2],[1.2,1.6],[2.5,2],[2,3.5],[1,0]]}, "legend": {"title": null, "labelExpr": "datum.label == '< 0.15' ? 'Yₑ < 0.15' : 'Yₑ = ' + datum.label"}}
 }},
{"data": {"name": "gray"}, "mark": {"type": "line", "strokeWidth": 1.0, "clip": true},
 "encoding": {
  "x": {"field": "A", "type": "quantitative", "axis": null},
  "y": {"field": "g2", "type": "quantitative", "axis": null},
  "color": {"datum": "< 0.15", "type": "nominal", "legend": {"title": null, "labelExpr": "datum.label == '< 0.15' ? 'Yₑ < 0.15' : 'Yₑ = ' + datum.label"}},
  "strokeDash": {"datum": "< 0.15", "type": "nominal", "legend": {"title": null, "labelExpr": "datum.label == '< 0.15' ? 'Yₑ < 0.15' : 'Yₑ = ' + datum.label"}}
 }},
{"data": {"name": "gray"}, "mark": {"type": "line", "strokeWidth": 1.0, "clip": true},
 "encoding": {
  "x": {"field": "A", "type": "quantitative", "axis": null},
  "y": {"field": "g3", "type": "quantitative", "axis": null},
  "color": {"datum": "< 0.15", "type": "nominal", "legend": {"title": null, "labelExpr": "datum.label == '< 0.15' ? 'Yₑ < 0.15' : 'Yₑ = ' + datum.label"}},
  "strokeDash": {"datum": "< 0.15", "type": "nominal", "legend": {"title": null, "labelExpr": "datum.label == '< 0.15' ? 'Yₑ < 0.15' : 'Yₑ = ' + datum.label"}}
 }},
{"data": {"name": "gray"}, "mark": {"type": "line", "strokeWidth": 1.0, "clip": true},
 "encoding": {
  "x": {"field": "A", "type": "quantitative", "axis": null},
  "y": {"field": "g4", "type": "quantitative", "axis": null},
  "color": {"datum": "< 0.15", "type": "nominal", "legend": {"title": null, "labelExpr": "datum.label == '< 0.15' ? 'Yₑ < 0.15' : 'Yₑ = ' + datum.label"}},
  "strokeDash": {"datum": "< 0.15", "type": "nominal", "legend": {"title": null, "labelExpr": "datum.label == '< 0.15' ? 'Yₑ < 0.15' : 'Yₑ = ' + datum.label"}}
 }},
{"data": {"name": "gray"}, "mark": {"type": "line", "strokeWidth": 1.0, "clip": true},
 "encoding": {
  "x": {"field": "A", "type": "quantitative", "axis": null},
  "y": {"field": "g5", "type": "quantitative", "axis": null},
  "color": {"datum": "< 0.15", "type": "nominal", "legend": {"title": null, "labelExpr": "datum.label == '< 0.15' ? 'Yₑ < 0.15' : 'Yₑ = ' + datum.label"}},
  "strokeDash": {"datum": "< 0.15", "type": "nominal", "legend": {"title": null, "labelExpr": "datum.label == '< 0.15' ? 'Yₑ < 0.15' : 'Yₑ = ' + datum.label"}}
 }},
{"data": {"name": "main"}, "mark": {"type": "line", "strokeWidth": 1.6, "clip": true},
 "encoding": {
  "x": {"field": "A", "type": "quantitative", "axis": {"orient": "top", "values": [80,100,120,140,160,180,200], "tickSize": -5, "labels": false, "title": null}},
  "y": {"field": "Y", "type": "quantitative", "axis": {"orient": "right", "values": [1e-12,1e-10,1e-8,1e-6,1e-4], "tickSize": -5, "labels": false, "title": null}},
  "color": {"field": "s", "type": "nominal", "legend": {"title": null, "labelExpr": "datum.label == '< 0.15' ? 'Yₑ < 0.15' : 'Yₑ = ' + datum.label"}},
  "strokeDash": {"field": "s", "type": "nominal", "legend": {"title": null, "labelExpr": "datum.label == '< 0.15' ? 'Yₑ < 0.15' : 'Yₑ = ' + datum.label"}}
 }}
]
}
